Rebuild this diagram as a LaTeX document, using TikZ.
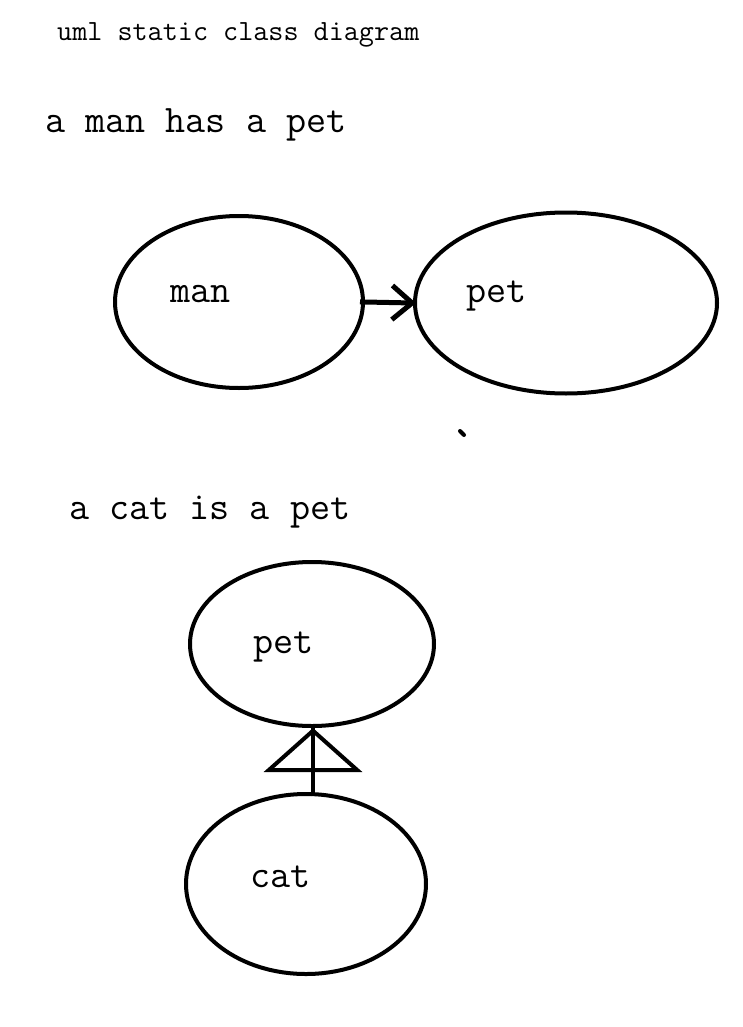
\documentclass[tikz,border=0pt]{standalone}
\usetikzlibrary{shapes.geometric,arrows.meta}
\tikzset{
	cls/.style={draw=black, line width=4pt, ellipse, inner sep=0pt},
	txt/.style={anchor=base west, inner sep=0pt, font=\ttfamily\fontsize{39}{45}\selectfont},
	has/.style={black, line width=5pt, shorten <=-5pt, shorten >=-3pt, -{Straight Barb[length=20pt, width=34pt, line width=5pt]}},
	isa/.style={black, line width=4pt, -{Triangle[open, length=44pt, width=98pt, line width=4pt]}}
}
\begin{document}
\begin{tikzpicture}[x=1pt, y=-1pt]
\useasboundingbox (0,0) rectangle (742,1027);
\node[anchor=base west, inner sep=0pt, font=\ttfamily\fontsize{29.3}{35}\selectfont] (title) at (57,41) {uml static class diagram};
\node[txt] (hasline) at (45,133) {a man has a pet};
\node[txt] (isline) at (69,519) {a cat is a pet};
\node[cls, minimum width=248pt, minimum height=172pt] (man) at (239,302) {};
\node[cls, minimum width=302pt, minimum height=181pt] (pet) at (566,303) {};
\node[cls, minimum width=244pt, minimum height=164pt] (pettwo) at (312,644) {};
\node[cls, minimum width=240pt, minimum height=180pt] (cat) at (306,884) {};
\node[txt] (manlbl) at (170,302) {man};
\node[txt] (petlbl) at (466,302) {pet};
\node[txt] (pettwolbl) at (253,653) {pet};
\node[txt] (catlbl) at (250,887) {cat};
\draw[has] (man.east) -- (pet.west);
\draw[isa] ([xshift=1pt, yshift=-4pt]pettwo.south |- cat.north) -- ([xshift=1pt]pettwo.south);
\draw[black, line width=4pt] ([xshift=1pt, yshift=-4pt]pettwo.south |- cat.north) -- ([xshift=1pt]pettwo.south);
\draw[black, line width=4pt, line cap=round] (460,431)--(464,435);
\end{tikzpicture}
\end{document}
